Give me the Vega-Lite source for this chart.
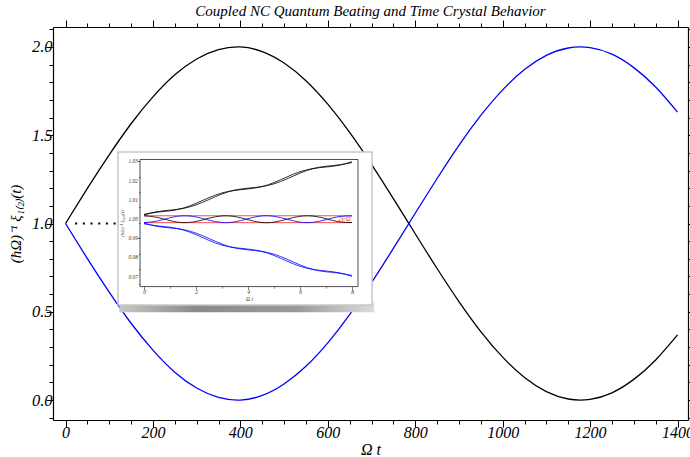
{
  "$schema": "https://vega.github.io/schema/vega-lite/v6.json",
  "width": 635,
  "height": 393,
  "autosize": {"type": "none"},
  "padding": {"left": 53, "top": 27, "right": 2, "bottom": 37},
  "background": "white",
  "config": {"view": {"stroke": null}},
  "title": {
    "text": "Coupled NC Quantum Beating and Time Crystal Behavior",
    "font": "Liberation Serif", "fontStyle": "italic", "fontWeight": "normal",
    "fontSize": 15, "color": "black", "offset": 1
  },
  "datasets": {
    "main": [
      {"t": 0, "v": 1, "s": "xi1"}, {"t": 50, "v": 1.199, "s": "xi1"}, {"t": 100, "v": 1.389, "s": "xi1"}, {"t": 150, "v": 1.565, "s": "xi1"},
      {"t": 200, "v": 1.717, "s": "xi1"}, {"t": 250, "v": 1.842, "s": "xi1"}, {"t": 300, "v": 1.932, "s": "xi1"}, {"t": 350, "v": 1.985, "s": "xi1"},
      {"t": 400, "v": 2.0, "s": "xi1"}, {"t": 450, "v": 1.974, "s": "xi1"}, {"t": 500, "v": 1.909, "s": "xi1"}, {"t": 550, "v": 1.809, "s": "xi1"},
      {"t": 600, "v": 1.676, "s": "xi1"}, {"t": 650, "v": 1.516, "s": "xi1"}, {"t": 700, "v": 1.335, "s": "xi1"}, {"t": 750, "v": 1.141, "s": "xi1"},
      {"t": 800, "v": 0.942, "s": "xi1"}, {"t": 850, "v": 0.745, "s": "xi1"}, {"t": 900, "v": 0.558, "s": "xi1"}, {"t": 950, "v": 0.388, "s": "xi1"},
      {"t": 1000, "v": 0.243, "s": "xi1"}, {"t": 1050, "v": 0.128, "s": "xi1"}, {"t": 1100, "v": 0.048, "s": "xi1"}, {"t": 1150, "v": 0.006, "s": "xi1"},
      {"t": 1200, "v": 0.004, "s": "xi1"}, {"t": 1250, "v": 0.041, "s": "xi1"}, {"t": 1300, "v": 0.117, "s": "xi1"}, {"t": 1350, "v": 0.227, "s": "xi1"},
      {"t": 1400, "v": 0.369, "s": "xi1"},
      {"t": 0, "v": 1, "s": "xi2"}, {"t": 50, "v": 0.801, "s": "xi2"}, {"t": 100, "v": 0.611, "s": "xi2"}, {"t": 150, "v": 0.435, "s": "xi2"},
      {"t": 200, "v": 0.283, "s": "xi2"}, {"t": 250, "v": 0.158, "s": "xi2"}, {"t": 300, "v": 0.068, "s": "xi2"}, {"t": 350, "v": 0.015, "s": "xi2"},
      {"t": 400, "v": 0.0, "s": "xi2"}, {"t": 450, "v": 0.026, "s": "xi2"}, {"t": 500, "v": 0.091, "s": "xi2"}, {"t": 550, "v": 0.191, "s": "xi2"},
      {"t": 600, "v": 0.324, "s": "xi2"}, {"t": 650, "v": 0.484, "s": "xi2"}, {"t": 700, "v": 0.665, "s": "xi2"}, {"t": 750, "v": 0.859, "s": "xi2"},
      {"t": 800, "v": 1.058, "s": "xi2"}, {"t": 850, "v": 1.255, "s": "xi2"}, {"t": 900, "v": 1.443, "s": "xi2"}, {"t": 950, "v": 1.612, "s": "xi2"},
      {"t": 1000, "v": 1.757, "s": "xi2"}, {"t": 1050, "v": 1.872, "s": "xi2"}, {"t": 1100, "v": 1.952, "s": "xi2"}, {"t": 1150, "v": 1.994, "s": "xi2"},
      {"t": 1200, "v": 1.996, "s": "xi2"}, {"t": 1250, "v": 1.959, "s": "xi2"}, {"t": 1300, "v": 1.883, "s": "xi2"}, {"t": 1350, "v": 1.773, "s": "xi2"},
      {"t": 1400, "v": 1.631, "s": "xi2"}
    ],
    "inset": [
      {"t": 0, "v": 1.00247, "s": "up1"}, {"t": 0.5, "v": 1.00355, "s": "up1"}, {"t": 1, "v": 1.00427, "s": "up1"}, {"t": 1.5, "v": 1.00565, "s": "up1"},
      {"t": 2, "v": 1.00814, "s": "up1"}, {"t": 2.5, "v": 1.01114, "s": "up1"}, {"t": 3, "v": 1.0136, "s": "up1"}, {"t": 3.5, "v": 1.01495, "s": "up1"},
      {"t": 4, "v": 1.01566, "s": "up1"}, {"t": 4.5, "v": 1.01677, "s": "up1"}, {"t": 5, "v": 1.01897, "s": "up1"}, {"t": 5.5, "v": 1.02193, "s": "up1"},
      {"t": 6, "v": 1.02463, "s": "up1"}, {"t": 6.5, "v": 1.02629, "s": "up1"}, {"t": 7, "v": 1.02709, "s": "up1"}, {"t": 7.5, "v": 1.02799, "s": "up1"},
      {"t": 8, "v": 1.02986, "s": "up1"},
      {"t": 0, "v": 1.00212, "s": "up2"}, {"t": 0.5, "v": 1.00382, "s": "up2"}, {"t": 1, "v": 1.00463, "s": "up2"}, {"t": 1.5, "v": 1.0055, "s": "up2"},
      {"t": 2, "v": 1.00734, "s": "up2"}, {"t": 2.5, "v": 1.01015, "s": "up2"}, {"t": 3, "v": 1.01305, "s": "up2"}, {"t": 3.5, "v": 1.01508, "s": "up2"},
      {"t": 4, "v": 1.01607, "s": "up2"}, {"t": 4.5, "v": 1.01681, "s": "up2"}, {"t": 5, "v": 1.01833, "s": "up2"}, {"t": 5.5, "v": 1.02092, "s": "up2"},
      {"t": 6, "v": 1.02391, "s": "up2"}, {"t": 6.5, "v": 1.02625, "s": "up2"}, {"t": 7, "v": 1.02748, "s": "up2"}, {"t": 7.5, "v": 1.02818, "s": "up2"},
      {"t": 8, "v": 1.0294, "s": "up2"},
      {"t": 0, "v": 0.99753, "s": "down1"}, {"t": 0.5, "v": 0.99645, "s": "down1"}, {"t": 1, "v": 0.99573, "s": "down1"}, {"t": 1.5, "v": 0.99435, "s": "down1"},
      {"t": 2, "v": 0.99186, "s": "down1"}, {"t": 2.5, "v": 0.98886, "s": "down1"}, {"t": 3, "v": 0.9864, "s": "down1"}, {"t": 3.5, "v": 0.98505, "s": "down1"},
      {"t": 4, "v": 0.98434, "s": "down1"}, {"t": 4.5, "v": 0.98323, "s": "down1"}, {"t": 5, "v": 0.98103, "s": "down1"}, {"t": 5.5, "v": 0.97807, "s": "down1"},
      {"t": 6, "v": 0.97537, "s": "down1"}, {"t": 6.5, "v": 0.97371, "s": "down1"}, {"t": 7, "v": 0.97291, "s": "down1"}, {"t": 7.5, "v": 0.97201, "s": "down1"},
      {"t": 8, "v": 0.97014, "s": "down1"},
      {"t": 0, "v": 0.99788, "s": "down2"}, {"t": 0.5, "v": 0.99618, "s": "down2"}, {"t": 1, "v": 0.99537, "s": "down2"}, {"t": 1.5, "v": 0.9945, "s": "down2"},
      {"t": 2, "v": 0.99266, "s": "down2"}, {"t": 2.5, "v": 0.98985, "s": "down2"}, {"t": 3, "v": 0.98695, "s": "down2"}, {"t": 3.5, "v": 0.98492, "s": "down2"},
      {"t": 4, "v": 0.98393, "s": "down2"}, {"t": 4.5, "v": 0.98319, "s": "down2"}, {"t": 5, "v": 0.98167, "s": "down2"}, {"t": 5.5, "v": 0.97908, "s": "down2"},
      {"t": 6, "v": 0.97609, "s": "down2"}, {"t": 6.5, "v": 0.97375, "s": "down2"}, {"t": 7, "v": 0.97252, "s": "down2"}, {"t": 7.5, "v": 0.97182, "s": "down2"},
      {"t": 8, "v": 0.9706, "s": "down2"},
      {"t": 0, "v": 1.0017, "s": "osc1"}, {"t": 0.5, "v": 1.00087, "s": "osc1"}, {"t": 1, "v": 0.99915, "s": "osc1"}, {"t": 1.5, "v": 0.99812, "s": "osc1"},
      {"t": 2, "v": 0.99872, "s": "osc1"}, {"t": 2.5, "v": 1.00041, "s": "osc1"}, {"t": 3, "v": 1.00163, "s": "osc1"}, {"t": 3.5, "v": 1.00126, "s": "osc1"},
      {"t": 4, "v": 0.99964, "s": "osc1"}, {"t": 4.5, "v": 0.9982, "s": "osc1"}, {"t": 5, "v": 0.99839, "s": "osc1"}, {"t": 5.5, "v": 0.99991, "s": "osc1"},
      {"t": 6, "v": 1.00142, "s": "osc1"}, {"t": 6.5, "v": 1.00153, "s": "osc1"}, {"t": 7, "v": 1.00015, "s": "osc1"}, {"t": 7.5, "v": 0.99853, "s": "osc1"},
      {"t": 8, "v": 0.99818, "s": "osc1"},
      {"t": 0, "v": 0.9981, "s": "osc2"}, {"t": 0.5, "v": 0.99893, "s": "osc2"}, {"t": 1, "v": 1.00065, "s": "osc2"}, {"t": 1.5, "v": 1.00168, "s": "osc2"},
      {"t": 2, "v": 1.00108, "s": "osc2"}, {"t": 2.5, "v": 0.99939, "s": "osc2"}, {"t": 3, "v": 0.99817, "s": "osc2"}, {"t": 3.5, "v": 0.99854, "s": "osc2"},
      {"t": 4, "v": 1.00016, "s": "osc2"}, {"t": 4.5, "v": 1.0016, "s": "osc2"}, {"t": 5, "v": 1.00141, "s": "osc2"}, {"t": 5.5, "v": 0.99989, "s": "osc2"},
      {"t": 6, "v": 0.99838, "s": "osc2"}, {"t": 6.5, "v": 0.99827, "s": "osc2"}, {"t": 7, "v": 0.99965, "s": "osc2"}, {"t": 7.5, "v": 1.00127, "s": "osc2"},
      {"t": 8, "v": 1.00162, "s": "osc2"}
    ],
    "guide": [{"t": 22, "v": 1}, {"t": 129, "v": 1}],
    "bounds": [{"level": 1.0017}, {"level": 0.9981}],
    "marker": [{"t": 7.95, "v": 0.9999, "label": "2γ/Ω"}],
    "insetticks": [
      {"tick": 0.97}, {"tick": 0.98}, {"tick": 0.99}, {"tick": 1.0}, {"tick": 1.01}, {"tick": 1.02}, {"tick": 1.03}
    ]
  },
  "layer": [
    {
      "data": {"name": "main"},
      "mark": {"type": "line", "strokeWidth": 1.3, "interpolate": "natural"},
      "encoding": {
        "x": {
          "field": "t", "type": "quantitative",
          "scale": {"domain": [-28.6, 1424], "nice": false, "zero": false},
          "axis": {
            "orient": "bottom",
            "values": [0, 50, 100, 150, 200, 250, 300, 350, 400, 450, 500, 550, 600, 650, 700, 750, 800, 850, 900, 950, 1000, 1050, 1100, 1150, 1200, 1250, 1300, 1350, 1400],
            "format": "d",
            "labelExpr": "datum.value % 200 === 0 ? datum.label : ''",
            "tickSize": {"condition": {"test": "datum.value % 200 === 0", "value": 7}, "value": 4},
            "tickColor": "black", "tickWidth": 1,
            "domainColor": "black", "domainWidth": 1.2,
            "labelFont": "Liberation Serif", "labelFontStyle": "italic", "labelFontSize": 16, "labelColor": "black",
            "labelPadding": -3, "labelOverlap": false, "labelFlush": false,
            "title": "Ω t", "titleFont": "Liberation Serif", "titleFontStyle": "italic", "titleFontWeight": "normal",
            "titleFontSize": 16, "titleColor": "black", "titlePadding": 1,
            "grid": false
          }
        },
        "y": {
          "field": "v", "type": "quantitative",
          "scale": {"domain": [-0.113, 2.113], "nice": false, "zero": false},
          "axis": {
            "orient": "left",
            "values": [-0.1, 0, 0.1, 0.2, 0.3, 0.4, 0.5, 0.6, 0.7, 0.8, 0.9, 1.0, 1.1, 1.2, 1.3, 1.4, 1.5, 1.6, 1.7, 1.8, 1.9, 2.0, 2.1],
            "format": ".1f",
            "labelExpr": "abs(datum.value * 2 - round(datum.value * 2)) < 0.001 ? datum.label : ''",
            "tickSize": {"condition": {"test": "abs(datum.value * 2 - round(datum.value * 2)) < 0.001", "value": 7}, "value": 4},
            "tickColor": "black", "tickWidth": 1,
            "domainColor": "black", "domainWidth": 1.2,
            "labelFont": "Liberation Serif", "labelFontStyle": "italic", "labelFontSize": 16.5, "labelColor": "black",
            "labelPadding": -6, "labelOverlap": false, "labelFlush": false,
            "title": "(ħΩ)⁻¹ ξ₁₍₂₎(t)", "titleFont": "Liberation Serif", "titleFontStyle": "italic", "titleFontWeight": "normal",
            "titleFontSize": 15, "titleColor": "black", "titlePadding": 8,
            "grid": false
          }
        },
        "color": {
          "field": "s", "type": "nominal",
          "scale": {"domain": ["xi1", "xi2"], "range": ["#000000", "#0000ff"]},
          "legend": null
        }
      }
    },
    {
      "data": {"name": "guide"},
      "mark": {"type": "line", "color": "black", "strokeWidth": 2, "strokeDash": [2, 5.7]},
      "encoding": {
        "x": {
          "field": "t", "type": "quantitative",
          "scale": {"domain": [-28.6, 1424], "nice": false, "zero": false},
          "axis": {
            "orient": "top",
            "values": [0, 50, 100, 150, 200, 250, 300, 350, 400, 450, 500, 550, 600, 650, 700, 750, 800, 850, 900, 950, 1000, 1050, 1100, 1150, 1200, 1250, 1300, 1350, 1400],
            "labels": false,
            "tickSize": {"condition": {"test": "datum.value % 200 === 0", "value": 7}, "value": 4},
            "tickColor": "black", "tickWidth": 1,
            "domainColor": "black", "domainWidth": 1.2,
            "title": null, "grid": false
          }
        },
        "y": {
          "field": "v", "type": "quantitative",
          "scale": {"domain": [-0.113, 2.113], "nice": false, "zero": false},
          "axis": {
            "orient": "right",
            "values": [-0.1, 0, 0.1, 0.2, 0.3, 0.4, 0.5, 0.6, 0.7, 0.8, 0.9, 1.0, 1.1, 1.2, 1.3, 1.4, 1.5, 1.6, 1.7, 1.8, 1.9, 2.0, 2.1],
            "labels": false,
            "tickSize": {"condition": {"test": "abs(datum.value * 2 - round(datum.value * 2)) < 0.001", "value": 7}, "value": 4},
            "tickColor": "black", "tickWidth": 1,
            "domainColor": "black", "domainWidth": 1.2,
            "title": null, "grid": false
          }
        }
      }
    },
    {
      "layer": [
        {
          "data": {"values": [{}]},
          "mark": {
            "type": "rect",
            "fill": {"gradient": "linear", "x1": 0, "y1": 0, "x2": 1, "y2": 0,
              "stops": [{"offset": 0, "color": "#c8c8c8"}, {"offset": 0.3, "color": "#8a8a8a"}, {"offset": 0.7, "color": "#9a9a9a"}, {"offset": 1, "color": "#dcdcdc"}]}
          },
          "encoding": {
            "x": {"datum": -0.95, "type": "quantitative"},
            "x2": {"datum": 8.85},
            "y": {"datum": 0.9515, "type": "quantitative"},
            "y2": {"datum": 0.9565}
          }
        },
        {
          "data": {"values": [{}]},
          "mark": {"type": "rect", "fill": "white", "stroke": "#c8c8c8", "strokeWidth": 1.5},
          "encoding": {
            "x": {"datum": -1.0, "type": "quantitative"},
            "x2": {"datum": 8.77},
            "y": {"datum": 0.9552, "type": "quantitative"},
            "y2": {"datum": 1.0349}
          }
        },
        {
          "data": {"values": [{}]},
          "mark": {"type": "rect", "fill": null, "stroke": "#222222", "strokeWidth": 0.8},
          "encoding": {
            "x": {"datum": -0.154, "type": "quantitative"},
            "x2": {"datum": 8.23},
            "y": {"datum": 0.9648, "type": "quantitative"},
            "y2": {"datum": 1.031}
          }
        },
        {
          "data": {"name": "bounds"},
          "mark": {"type": "rule", "color": "#ff3b3b", "strokeWidth": 0.9},
          "encoding": {
            "x": {"datum": 0, "type": "quantitative"},
            "x2": {"datum": 8},
            "y": {"field": "level", "type": "quantitative"}
          }
        },
        {
          "data": {"name": "inset"},
          "mark": {"type": "line", "strokeWidth": 0.8, "interpolate": "natural"},
          "encoding": {
            "x": {
              "field": "t", "type": "quantitative",
              "scale": {"domain": [-0.154, 8.23], "range": [87, 305], "nice": false, "zero": false},
              "axis": {
                "orient": "bottom", "offset": -133.4, "zindex": 3,
                "values": [0, 0.5, 1, 1.5, 2, 2.5, 3, 3.5, 4, 4.5, 5, 5.5, 6, 6.5, 7, 7.5, 8],
                "format": "d",
                "labelExpr": "datum.value % 2 === 0 ? datum.label : ''",
                "tickSize": {"condition": {"test": "datum.value % 2 === 0", "value": 3}, "value": 1.5},
                "tickColor": "#222", "tickWidth": 0.6,
                "domain": false,
                "labelFont": "Liberation Serif", "labelFontStyle": "italic", "labelFontSize": 5.5, "labelColor": "#333",
                "labelPadding": 0, "labelOverlap": false, "labelFlush": false,
                "title": "Ω t", "titleFont": "Liberation Serif", "titleFontStyle": "italic", "titleFontWeight": "normal",
                "titleFontSize": 5.5, "titleColor": "#333", "titlePadding": 1,
                "grid": false
              }
            },
            "y": {
              "field": "v", "type": "quantitative",
              "scale": {"domain": [0.9648, 1.031], "range": [259.6, 132.5], "nice": false, "zero": false},
              "axis": {
                "orient": "left", "offset": -87, "zindex": 3,
                "values": [0.966, 0.968, 0.97, 0.972, 0.974, 0.976, 0.978, 0.98, 0.982, 0.984, 0.986, 0.988, 0.99, 0.992, 0.994, 0.996, 0.998, 1.0, 1.002, 1.004, 1.006, 1.008, 1.01, 1.012, 1.014, 1.016, 1.018, 1.02, 1.022, 1.024, 1.026, 1.028, 1.03],
                "labels": false,
                "tickSize": {"condition": {"test": "abs(datum.value * 100 - round(datum.value * 100)) < 0.001", "value": 3}, "value": 1.5},
                "tickColor": "#222", "tickWidth": 0.6,
                "domain": false,
                "title": "(ħΩ)⁻¹ ξ₁₍₂₎(t)", "titleFont": "Liberation Serif", "titleFontStyle": "italic", "titleFontWeight": "normal",
                "titleFontSize": 5, "titleColor": "#333", "titlePadding": 12,
                "grid": false
              }
            },
            "color": {
              "field": "s", "type": "nominal",
              "scale": {"domain": ["up1", "up2", "down1", "down2", "osc1", "osc2"], "range": ["#000000", "#000000", "#0000ff", "#0000ff", "#000000", "#0000ff"]},
              "legend": null
            }
          }
        },
        {
          "data": {"name": "insetticks"},
          "mark": {"type": "text", "align": "right", "baseline": "middle", "dx": -2, "color": "#333", "font": "Liberation Serif", "fontStyle": "italic", "fontSize": 5.5},
          "encoding": {
            "x": {"datum": -0.154, "type": "quantitative"},
            "y": {"field": "tick", "type": "quantitative"},
            "text": {"field": "tick", "type": "quantitative", "format": ".2f"}
          }
        },
        {
          "data": {"name": "marker"},
          "mark": {"type": "text", "align": "right", "baseline": "middle", "color": "#ff3b3b", "font": "Liberation Serif", "fontStyle": "italic", "fontSize": 6.5},
          "encoding": {
            "x": {"field": "t", "type": "quantitative"},
            "y": {"field": "v", "type": "quantitative"},
            "text": {"field": "label"}
          }
        }
      ]
    }
  ],
  "resolve": {
    "scale": {"x": "independent", "y": "independent", "color": "independent"},
    "axis": {"x": "independent", "y": "independent"}
  }
}
